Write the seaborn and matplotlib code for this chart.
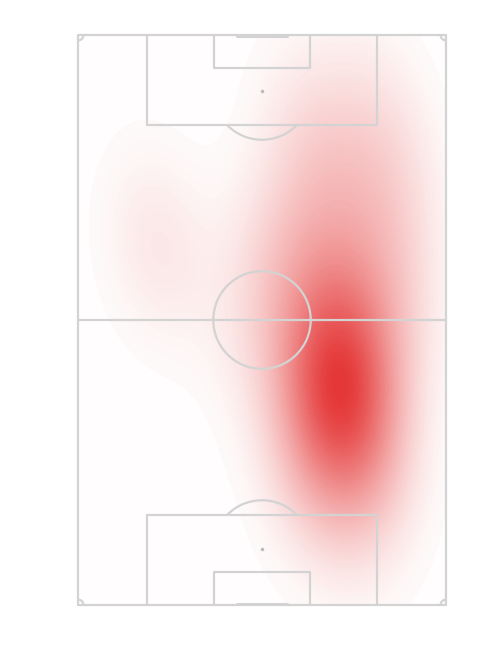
import numpy as np
import pandas as pd
import seaborn as sns
import matplotlib.pyplot as plt
from matplotlib.colors import LinearSegmentedColormap
from matplotlib.patches import Arc

# Posiciones de los eventos (x = ancho 0-68, y = largo 0-105)
evento_x = [48, 46, 50, 52, 44, 48, 53, 46, 50, 43, 54, 48, 51, 45, 42, 55, 49,
            42, 52, 47, 57, 38, 50, 60, 44, 55,
            46, 54, 60, 41,
            12, 18,
            45, 51, 41, 56,
            32, 35]
evento_y = [40, 43, 37, 41, 38, 45, 35, 33, 47, 42, 39, 30, 28, 48, 36, 44, 50,
            57, 55, 62, 63, 65, 70, 58, 74, 78,
            86, 92, 80, 88,
            68, 64,
            22, 19, 25, 25,
            48, 62]

df = pd.DataFrame({'x': evento_x, 'y': evento_y})

LARGO = 105
ANCHO = 68
color_linea = '#d3d3d3'

sns.set_theme(style='white')

fig = plt.figure(figsize=(5, 6.5), dpi=100)
ax = fig.add_axes([78 / 500, 45 / 650, 368 / 500, 570 / 650])

cmap = LinearSegmentedColormap.from_list('rojos', ['#ffffff', '#e43636'])
sns.kdeplot(data=df, x='x', y='y', fill=True, levels=100, thresh=0,
            cmap=cmap, clip=((0, ANCHO), (0, LARGO)), gridsize=200,
            bw_adjust=1.2, ax=ax, zorder=1)

# Campo
lw = 1.6
kw = dict(color=color_linea, lw=lw, zorder=3, clip_on=False)
ax.plot([0, ANCHO, ANCHO, 0, 0], [0, 0, LARGO, LARGO, 0], **kw)
ax.plot([0, ANCHO], [LARGO / 2, LARGO / 2], **kw)
ax.add_patch(Arc((ANCHO / 2, LARGO / 2), 18, 18, **kw))

area_w, area_d = 42.5, 16.6
chica_w, chica_d = 17.9, 6.1
pen = 10.3
radio = 9
ang = np.degrees(np.arccos((area_d - pen) / radio))
for lado in (0, 1):
    signo = 1 if lado == 0 else -1
    base = 0 if lado == 0 else LARGO
    ax.plot([ANCHO / 2 - area_w / 2, ANCHO / 2 - area_w / 2, ANCHO / 2 + area_w / 2, ANCHO / 2 + area_w / 2],
            [base, base + signo * area_d, base + signo * area_d, base], **kw)
    ax.plot([ANCHO / 2 - chica_w / 2, ANCHO / 2 - chica_w / 2, ANCHO / 2 + chica_w / 2, ANCHO / 2 + chica_w / 2],
            [base, base + signo * chica_d, base + signo * chica_d, base], **kw)
    ax.plot([ANCHO / 2 - 4.7, ANCHO / 2 + 4.7], [base + signo * 0.25, base + signo * 0.25],
            color=color_linea, lw=2.2, zorder=3)
    ax.plot(ANCHO / 2, base + signo * pen, 'o', color='#bbbbbb', ms=1.5, zorder=3)
    if lado == 0:
        ax.add_patch(Arc((ANCHO / 2, pen), 2 * radio, 2 * radio, theta1=90 - ang, theta2=90 + ang, **kw))
    else:
        ax.add_patch(Arc((ANCHO / 2, LARGO - pen), 2 * radio, 2 * radio, theta1=270 - ang, theta2=270 + ang, **kw))

# Esquinas
for (cx, cy, t1) in [(0, 0, 0), (ANCHO, 0, 90), (ANCHO, LARGO, 180), (0, LARGO, 270)]:
    ax.add_patch(Arc((cx, cy), 2, 2, theta1=t1, theta2=t1 + 90, **kw))

ax.set_xlim(0, ANCHO)
ax.set_ylim(0, LARGO)
ax.set_aspect('auto')
ax.axis('off')

plt.savefig('out.png', dpi=100)
